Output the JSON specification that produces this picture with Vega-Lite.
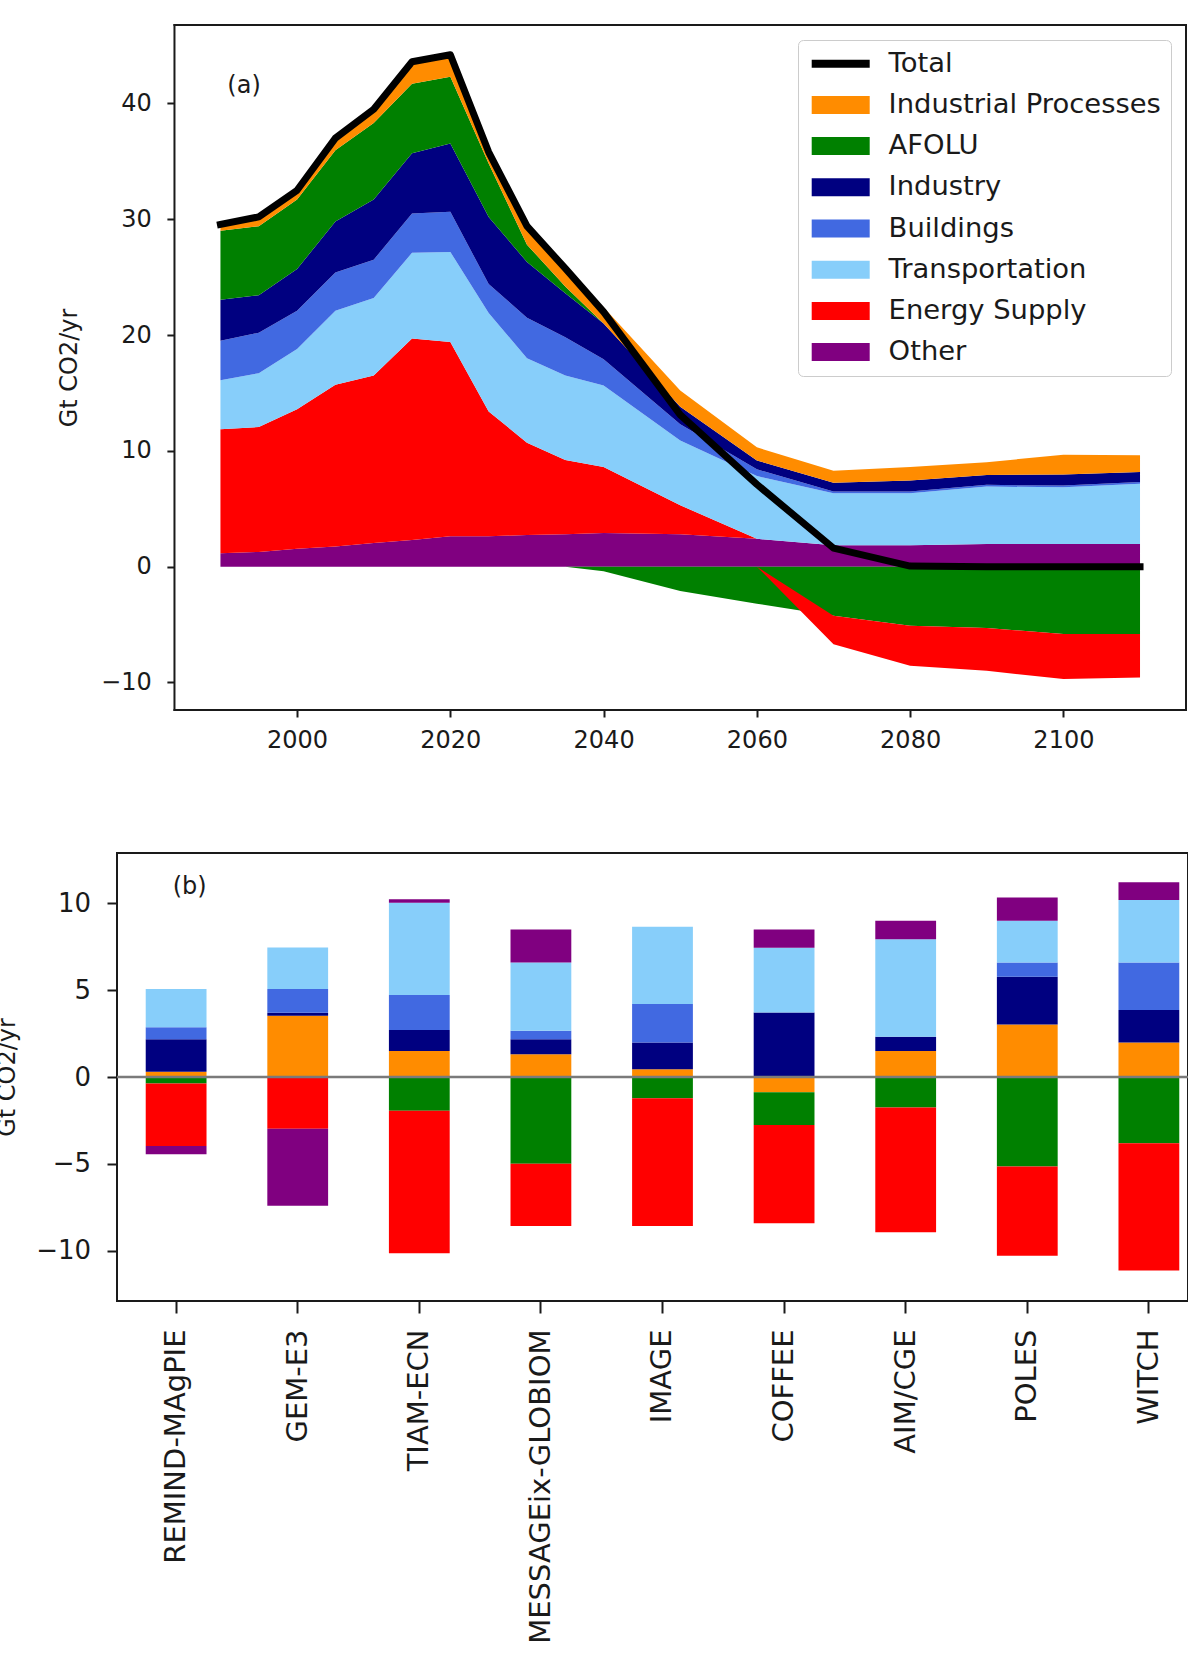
{
  "$schema": "https://vega.github.io/schema/vega-lite/v6.json",
  "padding": {"left": -6, "top": 23, "right": 0, "bottom": 0},
  "background": "white",
  "datasets": {
    "sectors": [
      {"sector": "Industrial Processes", "rank": 1},
      {"sector": "AFOLU", "rank": 2},
      {"sector": "Industry", "rank": 3},
      {"sector": "Buildings", "rank": 4},
      {"sector": "Transportation", "rank": 5},
      {"sector": "Energy Supply", "rank": 6},
      {"sector": "Other", "rank": 7}
    ],
    "sectors_pos": [
      {"year": 1990, "sector": "Other", "value": 1.15}, {"year": 1990, "sector": "Energy Supply", "value": 10.72}, {"year": 1990, "sector": "Transportation", "value": 4.23}, {"year": 1990, "sector": "Buildings", "value": 3.40}, {"year": 1990, "sector": "Industry", "value": 3.55}, {"year": 1990, "sector": "AFOLU", "value": 5.95}, {"year": 1990, "sector": "Industrial Processes", "value": 0.55},
      {"year": 1995, "sector": "Other", "value": 1.27}, {"year": 1995, "sector": "Energy Supply", "value": 10.79}, {"year": 1995, "sector": "Transportation", "value": 4.64}, {"year": 1995, "sector": "Buildings", "value": 3.50}, {"year": 1995, "sector": "Industry", "value": 3.23}, {"year": 1995, "sector": "AFOLU", "value": 5.97}, {"year": 1995, "sector": "Industrial Processes", "value": 0.80},
      {"year": 2000, "sector": "Other", "value": 1.54}, {"year": 2000, "sector": "Energy Supply", "value": 12.06}, {"year": 2000, "sector": "Transportation", "value": 5.20}, {"year": 2000, "sector": "Buildings", "value": 3.30}, {"year": 2000, "sector": "Industry", "value": 3.60}, {"year": 2000, "sector": "AFOLU", "value": 6.00}, {"year": 2000, "sector": "Industrial Processes", "value": 0.80},
      {"year": 2005, "sector": "Other", "value": 1.73}, {"year": 2005, "sector": "Energy Supply", "value": 13.97}, {"year": 2005, "sector": "Transportation", "value": 6.40}, {"year": 2005, "sector": "Buildings", "value": 3.30}, {"year": 2005, "sector": "Industry", "value": 4.40}, {"year": 2005, "sector": "AFOLU", "value": 6.16}, {"year": 2005, "sector": "Industrial Processes", "value": 1.04},
      {"year": 2010, "sector": "Other", "value": 2.04}, {"year": 2010, "sector": "Energy Supply", "value": 14.46}, {"year": 2010, "sector": "Transportation", "value": 6.70}, {"year": 2010, "sector": "Buildings", "value": 3.30}, {"year": 2010, "sector": "Industry", "value": 5.20}, {"year": 2010, "sector": "AFOLU", "value": 6.60}, {"year": 2010, "sector": "Industrial Processes", "value": 1.20},
      {"year": 2015, "sector": "Other", "value": 2.31}, {"year": 2015, "sector": "Energy Supply", "value": 17.39}, {"year": 2015, "sector": "Transportation", "value": 7.40}, {"year": 2015, "sector": "Buildings", "value": 3.40}, {"year": 2015, "sector": "Industry", "value": 5.20}, {"year": 2015, "sector": "AFOLU", "value": 6.00}, {"year": 2015, "sector": "Industrial Processes", "value": 1.90},
      {"year": 2020, "sector": "Other", "value": 2.62}, {"year": 2020, "sector": "Energy Supply", "value": 16.78}, {"year": 2020, "sector": "Transportation", "value": 7.77}, {"year": 2020, "sector": "Buildings", "value": 3.47}, {"year": 2020, "sector": "Industry", "value": 5.90}, {"year": 2020, "sector": "AFOLU", "value": 5.76}, {"year": 2020, "sector": "Industrial Processes", "value": 1.90},
      {"year": 2025, "sector": "Other", "value": 2.62}, {"year": 2025, "sector": "Energy Supply", "value": 10.78}, {"year": 2025, "sector": "Transportation", "value": 8.50}, {"year": 2025, "sector": "Buildings", "value": 2.50}, {"year": 2025, "sector": "Industry", "value": 5.80}, {"year": 2025, "sector": "AFOLU", "value": 4.60}, {"year": 2025, "sector": "Industrial Processes", "value": 1.00},
      {"year": 2030, "sector": "Other", "value": 2.73}, {"year": 2030, "sector": "Energy Supply", "value": 7.97}, {"year": 2030, "sector": "Transportation", "value": 7.30}, {"year": 2030, "sector": "Buildings", "value": 3.50}, {"year": 2030, "sector": "Industry", "value": 4.80}, {"year": 2030, "sector": "AFOLU", "value": 1.50}, {"year": 2030, "sector": "Industrial Processes", "value": 1.60},
      {"year": 2035, "sector": "Other", "value": 2.80}, {"year": 2035, "sector": "Energy Supply", "value": 6.40}, {"year": 2035, "sector": "Transportation", "value": 7.30}, {"year": 2035, "sector": "Buildings", "value": 3.30}, {"year": 2035, "sector": "Industry", "value": 3.80}, {"year": 2035, "sector": "AFOLU", "value": 0.60}, {"year": 2035, "sector": "Industrial Processes", "value": 1.55},
      {"year": 2040, "sector": "Other", "value": 2.90}, {"year": 2040, "sector": "Energy Supply", "value": 5.70}, {"year": 2040, "sector": "Transportation", "value": 7.05}, {"year": 2040, "sector": "Buildings", "value": 2.25}, {"year": 2040, "sector": "Industry", "value": 3.10}, {"year": 2040, "sector": "AFOLU", "value": 0}, {"year": 2040, "sector": "Industrial Processes", "value": 1.40},
      {"year": 2050, "sector": "Other", "value": 2.80}, {"year": 2050, "sector": "Energy Supply", "value": 2.50}, {"year": 2050, "sector": "Transportation", "value": 5.60}, {"year": 2050, "sector": "Buildings", "value": 1.40}, {"year": 2050, "sector": "Industry", "value": 1.50}, {"year": 2050, "sector": "AFOLU", "value": 0}, {"year": 2050, "sector": "Industrial Processes", "value": 1.40},
      {"year": 2060, "sector": "Other", "value": 2.40}, {"year": 2060, "sector": "Energy Supply", "value": 0}, {"year": 2060, "sector": "Transportation", "value": 5.42}, {"year": 2060, "sector": "Buildings", "value": 0.58}, {"year": 2060, "sector": "Industry", "value": 0.77}, {"year": 2060, "sector": "AFOLU", "value": 0}, {"year": 2060, "sector": "Industrial Processes", "value": 1.13},
      {"year": 2070, "sector": "Other", "value": 1.84}, {"year": 2070, "sector": "Energy Supply", "value": 0}, {"year": 2070, "sector": "Transportation", "value": 4.50}, {"year": 2070, "sector": "Buildings", "value": 0.15}, {"year": 2070, "sector": "Industry", "value": 0.75}, {"year": 2070, "sector": "AFOLU", "value": 0}, {"year": 2070, "sector": "Industrial Processes", "value": 1.04},
      {"year": 2080, "sector": "Other", "value": 1.84}, {"year": 2080, "sector": "Energy Supply", "value": 0}, {"year": 2080, "sector": "Transportation", "value": 4.50}, {"year": 2080, "sector": "Buildings", "value": 0.15}, {"year": 2080, "sector": "Industry", "value": 0.95}, {"year": 2080, "sector": "AFOLU", "value": 0}, {"year": 2080, "sector": "Industrial Processes", "value": 1.16},
      {"year": 2090, "sector": "Other", "value": 1.96}, {"year": 2090, "sector": "Energy Supply", "value": 0}, {"year": 2090, "sector": "Transportation", "value": 4.95}, {"year": 2090, "sector": "Buildings", "value": 0.15}, {"year": 2090, "sector": "Industry", "value": 0.85}, {"year": 2090, "sector": "AFOLU", "value": 0}, {"year": 2090, "sector": "Industrial Processes", "value": 1.10},
      {"year": 2100, "sector": "Other", "value": 1.95}, {"year": 2100, "sector": "Energy Supply", "value": 0}, {"year": 2100, "sector": "Transportation", "value": 4.90}, {"year": 2100, "sector": "Buildings", "value": 0.15}, {"year": 2100, "sector": "Industry", "value": 0.95}, {"year": 2100, "sector": "AFOLU", "value": 0}, {"year": 2100, "sector": "Industrial Processes", "value": 1.72},
      {"year": 2110, "sector": "Other", "value": 1.95}, {"year": 2110, "sector": "Energy Supply", "value": 0}, {"year": 2110, "sector": "Transportation", "value": 5.20}, {"year": 2110, "sector": "Buildings", "value": 0.15}, {"year": 2110, "sector": "Industry", "value": 0.87}, {"year": 2110, "sector": "AFOLU", "value": 0}, {"year": 2110, "sector": "Industrial Processes", "value": 1.44}
    ],
    "sectors_neg": [
      {"year": 2035, "sector": "AFOLU", "value": 0}, {"year": 2035, "sector": "Energy Supply", "value": 0},
      {"year": 2040, "sector": "AFOLU", "value": -0.40}, {"year": 2040, "sector": "Energy Supply", "value": 0},
      {"year": 2050, "sector": "AFOLU", "value": -2.10}, {"year": 2050, "sector": "Energy Supply", "value": 0},
      {"year": 2060, "sector": "AFOLU", "value": -3.20}, {"year": 2060, "sector": "Energy Supply", "value": 0},
      {"year": 2070, "sector": "AFOLU", "value": -4.24}, {"year": 2070, "sector": "Energy Supply", "value": -2.46},
      {"year": 2080, "sector": "AFOLU", "value": -5.10}, {"year": 2080, "sector": "Energy Supply", "value": -3.45},
      {"year": 2090, "sector": "AFOLU", "value": -5.30}, {"year": 2090, "sector": "Energy Supply", "value": -3.70},
      {"year": 2100, "sector": "AFOLU", "value": -5.82}, {"year": 2100, "sector": "Energy Supply", "value": -3.88},
      {"year": 2110, "sector": "AFOLU", "value": -5.82}, {"year": 2110, "sector": "Energy Supply", "value": -3.75}
    ],
    "total": [
      {"year": 1990, "value": 29.55}, {"year": 1995, "value": 30.2}, {"year": 2000, "value": 32.5}, {"year": 2005, "value": 37.0},
      {"year": 2010, "value": 39.5}, {"year": 2015, "value": 43.6}, {"year": 2020, "value": 44.2}, {"year": 2025, "value": 35.8},
      {"year": 2030, "value": 29.4}, {"year": 2035, "value": 25.75}, {"year": 2040, "value": 22.0}, {"year": 2050, "value": 13.1},
      {"year": 2060, "value": 7.1}, {"year": 2070, "value": 1.6}, {"year": 2080, "value": 0.05}, {"year": 2090, "value": 0.0},
      {"year": 2100, "value": 0.0}, {"year": 2110, "value": 0.0}
    ],
    "models": [
      {"model": "REMIND-MAgPIE", "sector": "Industrial Processes", "value": 0.30}, {"model": "REMIND-MAgPIE", "sector": "Industry", "value": 1.87}, {"model": "REMIND-MAgPIE", "sector": "Buildings", "value": 0.69}, {"model": "REMIND-MAgPIE", "sector": "Transportation", "value": 2.21}, {"model": "REMIND-MAgPIE", "sector": "AFOLU", "value": -0.37}, {"model": "REMIND-MAgPIE", "sector": "Energy Supply", "value": -3.60}, {"model": "REMIND-MAgPIE", "sector": "Other", "value": -0.48},
      {"model": "GEM-E3", "sector": "Industrial Processes", "value": 3.53}, {"model": "GEM-E3", "sector": "Industry", "value": 0.17}, {"model": "GEM-E3", "sector": "Buildings", "value": 1.37}, {"model": "GEM-E3", "sector": "Transportation", "value": 2.39}, {"model": "GEM-E3", "sector": "Energy Supply", "value": -2.98}, {"model": "GEM-E3", "sector": "Other", "value": -4.43},
      {"model": "TIAM-ECN", "sector": "Industrial Processes", "value": 1.50}, {"model": "TIAM-ECN", "sector": "Industry", "value": 1.20}, {"model": "TIAM-ECN", "sector": "Buildings", "value": 2.02}, {"model": "TIAM-ECN", "sector": "Transportation", "value": 5.32}, {"model": "TIAM-ECN", "sector": "Other", "value": 0.19}, {"model": "TIAM-ECN", "sector": "AFOLU", "value": -1.94}, {"model": "TIAM-ECN", "sector": "Energy Supply", "value": -8.21},
      {"model": "MESSAGEix-GLOBIOM", "sector": "Industrial Processes", "value": 1.31}, {"model": "MESSAGEix-GLOBIOM", "sector": "Industry", "value": 0.86}, {"model": "MESSAGEix-GLOBIOM", "sector": "Buildings", "value": 0.50}, {"model": "MESSAGEix-GLOBIOM", "sector": "Transportation", "value": 3.93}, {"model": "MESSAGEix-GLOBIOM", "sector": "Other", "value": 1.90}, {"model": "MESSAGEix-GLOBIOM", "sector": "AFOLU", "value": -5.00}, {"model": "MESSAGEix-GLOBIOM", "sector": "Energy Supply", "value": -3.58},
      {"model": "IMAGE", "sector": "Industrial Processes", "value": 0.44}, {"model": "IMAGE", "sector": "Industry", "value": 1.55}, {"model": "IMAGE", "sector": "Buildings", "value": 2.21}, {"model": "IMAGE", "sector": "Transportation", "value": 4.45}, {"model": "IMAGE", "sector": "AFOLU", "value": -1.23}, {"model": "IMAGE", "sector": "Energy Supply", "value": -7.35},
      {"model": "COFFEE", "sector": "Industry", "value": 3.72}, {"model": "COFFEE", "sector": "Transportation", "value": 3.72}, {"model": "COFFEE", "sector": "Other", "value": 1.06}, {"model": "COFFEE", "sector": "Industrial Processes", "value": -0.88}, {"model": "COFFEE", "sector": "AFOLU", "value": -1.88}, {"model": "COFFEE", "sector": "Energy Supply", "value": -5.66},
      {"model": "AIM/CGE", "sector": "Industrial Processes", "value": 1.50}, {"model": "AIM/CGE", "sector": "Industry", "value": 0.82}, {"model": "AIM/CGE", "sector": "Transportation", "value": 5.62}, {"model": "AIM/CGE", "sector": "Other", "value": 1.06}, {"model": "AIM/CGE", "sector": "AFOLU", "value": -1.75}, {"model": "AIM/CGE", "sector": "Energy Supply", "value": -7.19},
      {"model": "POLES", "sector": "Industrial Processes", "value": 3.03}, {"model": "POLES", "sector": "Industry", "value": 2.75}, {"model": "POLES", "sector": "Buildings", "value": 0.82}, {"model": "POLES", "sector": "Transportation", "value": 2.40}, {"model": "POLES", "sector": "Other", "value": 1.34}, {"model": "POLES", "sector": "AFOLU", "value": -5.16}, {"model": "POLES", "sector": "Energy Supply", "value": -5.13},
      {"model": "WITCH", "sector": "Industrial Processes", "value": 1.99}, {"model": "WITCH", "sector": "Industry", "value": 1.87}, {"model": "WITCH", "sector": "Buildings", "value": 2.74}, {"model": "WITCH", "sector": "Transportation", "value": 3.59}, {"model": "WITCH", "sector": "Other", "value": 1.02}, {"model": "WITCH", "sector": "AFOLU", "value": -3.82}, {"model": "WITCH", "sector": "Energy Supply", "value": -7.33}
    ]
  },
  "vconcat": [
    {
      "width": 1069,
      "height": 685,
      "view": {"stroke": null},
      "layer": [
        {
          "data": {"name": "sectors_pos"},
          "transform": [{"lookup": "sector", "from": {"data": {"name": "sectors"}, "key": "sector", "fields": ["rank"]}}],
          "mark": {"type": "area", "interpolate": "linear"},
          "encoding": {
            "x": {"field": "year", "type": "quantitative", "title": null,
                  "scale": {"domain": [1976.5, 2116], "nice": false, "zero": false},
                  "axis": {"values": [2000, 2020, 2040, 2060, 2080, 2100], "format": "d", "tickSize": 7, "labelPadding": 11, "labelFontSize": 24}},
            "y": {"field": "value", "type": "quantitative", "stack": "zero", "title": "Gt CO2/yr",
                  "scale": {"domain": [-12.38, 46.77], "nice": false, "zero": false},
                  "axis": {"offset": -57.5, "values": [-10, 0, 10, 20, 30, 40], "format": "d", "tickSize": 7.6, "labelPadding": 15.7, "labelFontSize": 24, "titleFontSize": 24, "titlePadding": 19}},
            "color": {"field": "sector", "type": "nominal",
                      "scale": {"domain": ["Total", "Industrial Processes", "AFOLU", "Industry", "Buildings", "Transportation", "Energy Supply", "Other"],
                                "range": ["#000000", "#FF8C00", "#008000", "#000080", "#4169E1", "#87CEFA", "#FF0000", "#800080"]},
                      "legend": {
                        "orient": "top-right", "offset": 15, "title": null,
                        "padding": 10, "strokeColor": "#cccccc", "fillColor": "white", "cornerRadius": 5,
                        "symbolType": "M-1,-0.9H4.8V0.9H-1Z", "symbolSize": 400, "symbolStrokeWidth": 0,
                        "labelFontSize": 27.4, "labelFont": "DejaVu Sans", "labelColor": "#1a1a1a", "labelOffset": 53.2, "labelLimit": 500,
                        "rowPadding": 12.2,
                        "encode": {"symbols": {"update": {"shape": {"signal": "datum.value === 'Total' ? 'M-1,-0.4H4.8V0.4H-1Z' : 'M-1,-0.9H4.8V0.9H-1Z'"}, "opacity": {"value": 1}}}}
                      }},
            "order": {"field": "rank", "type": "quantitative", "sort": "descending"}
          }
        },
        {
          "data": {"name": "sectors_neg"},
          "transform": [{"lookup": "sector", "from": {"data": {"name": "sectors"}, "key": "sector", "fields": ["rank"]}}],
          "mark": {"type": "area", "interpolate": "linear"},
          "encoding": {
            "x": {"field": "year", "type": "quantitative", "title": null},
            "y": {"field": "value", "type": "quantitative", "stack": "zero", "title": "Gt CO2/yr"},
            "color": {"field": "sector", "type": "nominal",
                      "scale": {"domain": ["Total", "Industrial Processes", "AFOLU", "Industry", "Buildings", "Transportation", "Energy Supply", "Other"],
                                "range": ["#000000", "#FF8C00", "#008000", "#000080", "#4169E1", "#87CEFA", "#FF0000", "#800080"]}},
            "order": {"field": "rank", "type": "quantitative", "sort": "ascending"}
          }
        },
        {
          "data": {"name": "total"},
          "mark": {"type": "line", "color": "#000000", "strokeWidth": 7, "strokeCap": "square", "strokeJoin": "round"},
          "encoding": {
            "x": {"field": "year", "type": "quantitative", "title": null},
            "y": {"field": "value", "type": "quantitative", "title": "Gt CO2/yr"}
          }
        },
        {
          "data": {"values": [{"label": "(a)"}]},
          "mark": {"type": "text", "align": "left", "baseline": "middle", "fontSize": 24, "color": "#1a1a1a"},
          "encoding": {
            "x": {"datum": 1990.9, "type": "quantitative"},
            "y": {"datum": 41.5, "type": "quantitative"},
            "text": {"field": "label"}
          }
        },
        {
          "data": {"values": [{}]},
          "mark": {"type": "rule", "color": "#1a1a1a", "strokeWidth": 2, "strokeCap": "square"},
          "encoding": {"x": {"datum": 1984, "type": "quantitative"}}
        },
        {
          "data": {"values": [{}]},
          "mark": {"type": "rule", "color": "#1a1a1a", "strokeWidth": 2, "strokeCap": "square"},
          "encoding": {"x": {"datum": 2116, "type": "quantitative"}}
        },
        {
          "data": {"values": [{}]},
          "mark": {"type": "rule", "color": "#1a1a1a", "strokeWidth": 2, "strokeCap": "square"},
          "encoding": {"x": {"datum": 1984, "type": "quantitative"}, "x2": {"datum": 2116}, "y": {"datum": 46.77, "type": "quantitative"}}
        },
        {
          "data": {"values": [{}]},
          "mark": {"type": "rule", "color": "#1a1a1a", "strokeWidth": 2, "strokeCap": "square"},
          "encoding": {"x": {"datum": 1984, "type": "quantitative"}, "x2": {"datum": 2116}, "y": {"datum": -12.38, "type": "quantitative"}}
        }
      ]
    },
    {
      "width": 1071,
      "height": 448,
      "layer": [
        {
          "data": {"name": "models"},
          "transform": [{"lookup": "sector", "from": {"data": {"name": "sectors"}, "key": "sector", "fields": ["rank"]}}],
          "mark": {"type": "bar"},
          "encoding": {
            "x": {"field": "model", "type": "nominal", "title": null,
                  "scale": {"domain": ["REMIND-MAgPIE", "GEM-E3", "TIAM-ECN", "MESSAGEix-GLOBIOM", "IMAGE", "COFFEE", "AIM/CGE", "POLES", "WITCH"],
                            "paddingInner": 0.5, "paddingOuter": 0.154, "align": 0.767},
                  "axis": {"labelAngle": -90, "tickSize": 12, "labelPadding": 16, "labelFontSize": 29, "labelLimit": 0}},
            "y": {"field": "value", "type": "quantitative", "stack": "zero", "title": "Gt CO2/yr",
                  "scale": {"domain": [-12.9, 12.9], "nice": false, "zero": false},
                  "axis": {"values": [-10, -5, 0, 5, 10], "format": "d", "tickSize": 10, "labelPadding": 16.5, "labelFontSize": 26, "titleFontSize": 24, "titlePadding": 16.6}},
            "color": {"field": "sector", "type": "nominal",
                      "scale": {"domain": ["Total", "Industrial Processes", "AFOLU", "Industry", "Buildings", "Transportation", "Energy Supply", "Other"],
                                "range": ["#000000", "#FF8C00", "#008000", "#000080", "#4169E1", "#87CEFA", "#FF0000", "#800080"]},
                      "legend": null},
            "order": {"field": "rank", "type": "quantitative", "sort": "ascending"}
          }
        },
        {
          "data": {"values": [{}]},
          "mark": {"type": "rule", "color": "#7a7a7a", "strokeWidth": 2.5},
          "encoding": {"y": {"datum": 0, "type": "quantitative"}}
        },
        {
          "data": {"values": [{"label": "(b)"}]},
          "mark": {"type": "text", "align": "left", "baseline": "middle", "fontSize": 24, "dx": -3.4, "color": "#1a1a1a"},
          "encoding": {
            "x": {"datum": "REMIND-MAgPIE", "type": "nominal"},
            "y": {"datum": 10.93, "type": "quantitative"},
            "text": {"field": "label"}
          }
        }
      ]
    }
  ],
  "spacing": 100,
  "resolve": {"scale": {"color": "independent"}, "legend": {"color": "independent"}},
  "config": {
    "font": "DejaVu Sans",
    "view": {"stroke": "#1a1a1a", "strokeWidth": 2},
    "axis": {"grid": false, "domain": false, "tickColor": "#1a1a1a", "tickWidth": 2, "labelColor": "#1a1a1a", "titleColor": "#1a1a1a", "titleFontWeight": "normal", "labelFont": "DejaVu Sans", "titleFont": "DejaVu Sans"}
  }
}
